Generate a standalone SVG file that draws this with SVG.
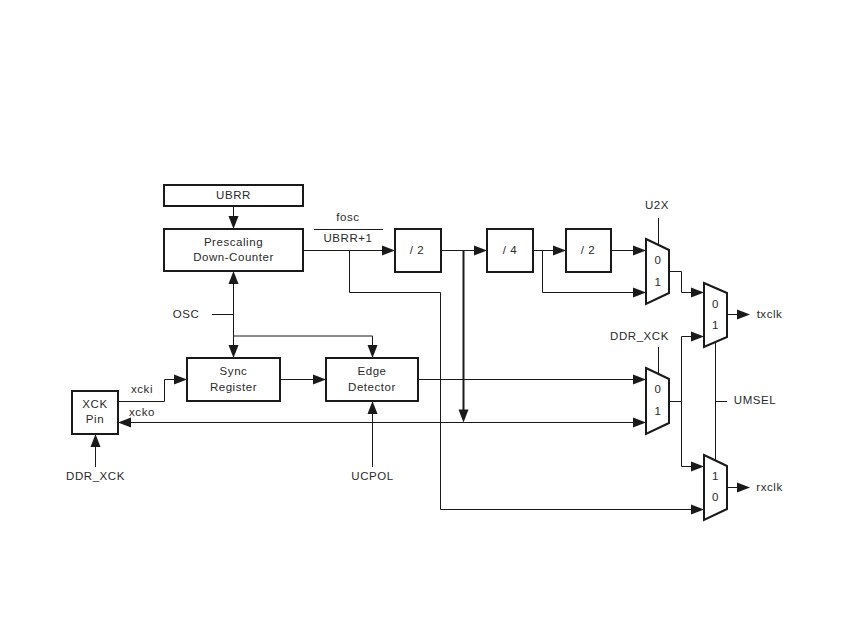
<svg xmlns="http://www.w3.org/2000/svg" width="850" height="638" viewBox="0 0 850 638">
<style>
text{font-family:"Liberation Sans",Arial,sans-serif;font-size:11.5px;fill:#2a2a2a;text-anchor:middle;letter-spacing:.55px}
.box{fill:#fff;stroke:#1a1a1a;stroke-width:2}
.w{fill:none;stroke:#1a1a1a;stroke-width:1}
.b{fill:none;stroke:#1a1a1a;stroke-width:2}
.a{fill:#1a1a1a;stroke:none}
</style>
<defs>
<path id="ah" class="a" d="M0 0L-13-5V5Z"/>
</defs>
<rect width="850" height="638" fill="#fff"/>
<g id="connectors">
<path class="w" d="M233.500 206V218M233.500 282V346M233.500 336H372.500V346M212 314.500H233.500"/>
<path class="w" d="M303 250.500H384M349.500 250.500V292.500H440.500V509.500H692"/>
<path class="w" d="M314 229.500H383"/>
<path class="w" d="M118 401.500H164.500V379.500H175M280 379.500H314M372.500 412V467M95.500 445V467"/>
<path class="w" d="M130 422.500H634"/>
<path class="w" d="M418 379.500H634"/>
<path class="w" d="M441 250.500H475M533 250.500H554M611 250.500H634M542.500 250.500V292.500H634"/>
<path class="b" d="M463.500 250.500V410"/>
<path class="w" d="M658.500 218V245M658.500 347V373M669 271.500H681.500V292.500H692M669 401.500H681.500V336.500H692M681.500 401.500V466.500H692"/>
<path class="w" d="M715.500 342V460M715.500 401.500H727M727 314.500H738M727 487.500H738"/>
<use href="#ah" transform="translate(233.500 229) rotate(90)"/>
<use href="#ah" transform="translate(233.500 271) rotate(-90)"/>
<use href="#ah" transform="translate(233.500 358) rotate(90)"/>
<use href="#ah" transform="translate(372.500 358) rotate(90)"/>
<use href="#ah" transform="translate(372.500 401) rotate(-90)"/>
<use href="#ah" transform="translate(95.500 434) rotate(-90)"/>
<use href="#ah" transform="translate(395 250.500)"/>
<use href="#ah" transform="translate(187 379.500)"/>
<use href="#ah" transform="translate(326 379.500)"/>
<use href="#ah" transform="translate(118 422.500) rotate(180)"/>
<use href="#ah" transform="translate(487 250.500)"/>
<use href="#ah" transform="translate(566 250.500)"/>
<use href="#ah" transform="translate(646 250.500)"/>
<use href="#ah" transform="translate(646 292.500)"/>
<use href="#ah" transform="translate(646 379.500)"/>
<use href="#ah" transform="translate(646 422.500)"/>
<use href="#ah" transform="translate(704 292.500)"/>
<use href="#ah" transform="translate(704 336.500)"/>
<use href="#ah" transform="translate(704 466.500)"/>
<use href="#ah" transform="translate(704 509.500)"/>
<use href="#ah" transform="translate(750 314.500)"/>
<use href="#ah" transform="translate(750 487.500)"/>
<use href="#ah" transform="translate(463.500 422.500) rotate(90)"/>
</g>
<g id="ubrr"><rect class="box" x="164" y="185" width="139" height="21"/><text x="233.500" y="199">UBRR</text></g>
<g id="prescaler"><rect class="box" x="164" y="229" width="139" height="42"/><text x="233.500" y="246">Prescaling</text><text x="233.500" y="261">Down-Counter</text></g>
<g id="sync"><rect class="box" x="187" y="358" width="93" height="43"/><text x="233.500" y="375">Sync</text><text x="233.500" y="391">Register</text></g>
<g id="edge"><rect class="box" x="326" y="358" width="92" height="43"/><text x="372" y="375">Edge</text><text x="372" y="391">Detector</text></g>
<g id="xck"><rect class="box" x="72" y="391" width="46" height="43"/><text x="95" y="408">XCK</text><text x="95" y="423">Pin</text></g>
<g id="div2a"><rect class="box" x="395" y="229" width="46" height="43"/><text x="417" y="254">/ 2</text></g>
<g id="div4"><rect class="box" x="487" y="229" width="46" height="43"/><text x="510" y="254">/ 4</text></g>
<g id="div2b"><rect class="box" x="566" y="229" width="45" height="43"/><text x="588" y="254">/ 2</text></g>
<g id="mux-u2x"><path class="box" d="M646 239L669 250V293L646 304Z"/><text x="658" y="264">0</text><text x="658" y="286">1</text></g>
<g id="mux-ddr"><path class="box" d="M646 368L669 379V423L646 434Z"/><text x="658" y="393">0</text><text x="658" y="415">1</text></g>
<g id="mux-tx"><path class="box" d="M704 283L727 293V337L704 347Z"/><text x="715.500" y="308">0</text><text x="715.500" y="329">1</text></g>
<g id="mux-rx"><path class="box" d="M704 455L727 466V509L704 520Z"/><text x="715.500" y="480">1</text><text x="715.500" y="501">0</text></g>
<g id="labels">
<text x="348" y="221">fosc</text>
<text x="348" y="242">UBRR+1</text>
<text x="186" y="318">OSC</text>
<text x="142" y="393">xcki</text>
<text x="142" y="416">xcko</text>
<text x="95.500" y="480">DDR_XCK</text>
<text x="372.500" y="480">UCPOL</text>
<text x="657" y="209">U2X</text>
<text x="639.500" y="340">DDR_XCK</text>
<text x="755" y="404">UMSEL</text>
<text x="769.500" y="318">txclk</text>
<text x="769.500" y="491">rxclk</text>
</g>
</svg>
